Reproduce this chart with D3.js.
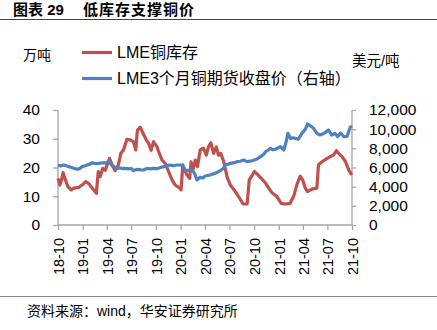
<!DOCTYPE html>
<html><head><meta charset="utf-8">
<script src="https://cdn.jsdelivr.net/npm/d3@7"></script>
<style>
body{margin:0;background:#fff;}
svg{display:block;}
text{font-family:"Liberation Sans","Noto Sans CJK SC",sans-serif;fill:#000;}
</style></head>
<body>
<script>
// ---- Data ----
const inventoryDates = ["2018-10-01","2018-10-08","2018-10-14","2018-10-20","2018-10-29","2018-11-07","2018-11-19","2018-11-29","2018-12-17","2018-12-30",
"2019-01-12","2019-01-24","2019-02-06","2019-02-21","2019-02-28","2019-03-07","2019-03-17","2019-03-26","2019-04-04","2019-04-11","2019-04-20",
"2019-05-02","2019-05-14","2019-05-23","2019-06-02","2019-06-15","2019-06-27","2019-07-09","2019-07-18","2019-07-24","2019-08-04","2019-08-14",
"2019-08-26","2019-09-04","2019-09-13","2019-09-22","2019-10-05","2019-10-11","2019-10-24","2019-11-05","2019-11-17","2019-11-30","2019-12-12",
"2019-12-25","2020-01-03","2020-01-09","2020-01-16","2020-01-25","2020-02-04","2020-02-09","2020-02-16","2020-02-25","2020-03-04","2020-03-14",
"2020-03-26","2020-04-06","2020-04-14","2020-04-23","2020-05-03","2020-05-13","2020-05-21","2020-05-30","2020-06-10","2020-06-22","2020-07-04",
"2020-07-19","2020-08-04","2020-08-21","2020-09-05","2020-09-13","2020-09-21","2020-10-02","2020-10-15","2020-10-25","2020-11-13","2020-11-25",
"2020-12-07","2020-12-26","2021-01-10","2021-01-27","2021-02-12","2021-02-27","2021-03-09","2021-03-22","2021-03-31","2021-04-10","2021-04-18",
"2021-05-04","2021-05-23","2021-05-29","2021-06-11","2021-06-30","2021-07-12","2021-07-24","2021-08-04","2021-08-12","2021-08-25","2021-09-07",
"2021-09-19","2021-09-30"];
const inventoryValues = [16.2,13.9,15.6,18.2,15.6,13.3,12.2,12.8,13.1,13.9,
15.1,14.4,12.8,11.0,18.6,16.8,19.7,19.0,21.4,23.2,20.9,
18.9,20.9,24.9,26.1,29.8,29.6,29.0,26.1,33.0,34.0,31.9,
29.6,28.4,26.0,29.0,27.2,25.5,22.6,21.4,18.6,15.7,13.9,
13.1,12.2,20.9,19.1,17.4,16.2,22.0,19.1,22.6,20.3,26.1,
26.7,24.3,27.2,28.6,24.9,27.2,24.3,24.9,22.0,16.8,13.9,
12.2,9.9,7.3,7.3,15.7,16.8,18.6,17.5,16.5,14.5,12.8,
11.2,9.8,7.5,7.3,7.5,10.4,13.9,17.0,15.7,12.8,11.6,
12.5,12.8,20.9,22.0,23.2,23.8,24.3,25.9,24.9,23.8,22.0,
19.1,17.4];

const priceDates = ["2018-10-01","2018-10-10","2018-10-22","2018-11-01","2018-11-10","2018-11-20","2018-11-29","2018-12-11","2018-12-20","2018-12-30",
"2019-01-10","2019-01-18","2019-01-28","2019-02-06","2019-02-15","2019-02-24","2019-03-08","2019-03-19","2019-03-28","2019-04-07","2019-04-20",
"2019-05-02","2019-05-12","2019-05-20","2019-06-01","2019-06-08","2019-06-21","2019-07-01","2019-07-09","2019-07-18","2019-07-28","2019-08-08",
"2019-08-16","2019-08-29","2019-09-10","2019-09-22","2019-10-05","2019-10-16","2019-10-30","2019-11-12","2019-11-24","2019-12-05","2019-12-19",
"2020-01-01","2020-01-07","2020-01-19","2020-01-31","2020-02-13","2020-02-22","2020-03-02","2020-03-14","2020-03-24","2020-04-02","2020-04-20",
"2020-05-09","2020-05-28","2020-06-08","2020-06-16","2020-07-04","2020-07-16","2020-07-29","2020-08-10","2020-08-23","2020-09-05","2020-09-24",
"2020-10-12","2020-10-25","2020-11-05","2020-11-13","2020-11-22","2020-12-01","2020-12-10","2020-12-19","2021-01-07","2021-01-20","2021-01-30",
"2021-02-04","2021-02-14","2021-02-22","2021-03-03","2021-03-15","2021-03-28","2021-04-10","2021-04-18","2021-04-28","2021-05-10","2021-05-23",
"2021-06-04","2021-06-19","2021-07-05","2021-07-18","2021-07-30","2021-08-08","2021-08-19","2021-09-01","2021-09-13","2021-09-23","2021-09-30"];
const priceValues = [6230,6150,6260,6180,6090,6000,5910,5810,5880,6090,
6180,6260,6350,6500,6420,6400,6450,6500,6470,6610,6260,
6000,5910,5950,5880,5910,5850,5900,5670,5780,5810,5740,
5740,5910,5850,5910,5880,5980,6090,6200,6260,6180,6260,
6260,6200,5740,5700,5740,5390,4700,4970,4900,5110,5220,
5390,5670,5900,6260,6430,6480,6610,6650,6780,6610,6700,
6890,7130,7350,7650,7800,8000,7850,7910,8170,7830,8870,
9560,9040,9100,9040,8950,9560,9980,10540,10360,10120,9560,
9390,9560,9910,9390,9560,9220,9600,9220,9250,10120,10360];

const xTickLabels = ["18-10","19-01","19-04","19-07","19-10","20-01","20-04","20-07","20-10","21-01","21-04","21-07","21-10"];
const leftTicks = [0,10,20,30,40];
const rightTicks = [0,2000,4000,6000,8000,10000,12000];
const seriesNames = ["LME铜库存","LME3个月铜期货收盘价（右轴）"];

// ---- Layout ----
const W = 437, H = 330;
const M = {left:58, right:352, top:110, bottom:225};
const parse = d3.timeParse("%Y-%m-%d");
const tickParse = d3.timeParse("%y-%m");

const svg = d3.select("body").append("svg").attr("width",W).attr("height",H);

const x = d3.scaleTime().domain([parse("2018-10-01"), parse("2021-10-01")]).range([M.left, M.right]);
const yL = d3.scaleLinear().domain([0,40]).range([M.bottom, M.top]);
const yR = d3.scaleLinear().domain([0,12000]).range([M.bottom, M.top]);

const red = "#C0504D", blue = "#4F81BD", axisColor = "#A6A6A6";

// Title
svg.append("text").attr("x",13).attr("y",14.5).attr("font-size",15).attr("font-weight","bold")
  .attr("font-family","'Noto Sans CJK SC',sans-serif").attr("fill","#222").text("图表 29");
svg.append("text").attr("x",83).attr("y",14.5).attr("font-size",15).attr("font-weight","bold")
  .attr("letter-spacing",1).attr("font-family","'Noto Sans CJK SC',sans-serif").attr("fill","#222").text("低库存支撑铜价");
svg.append("line").attr("x1",0).attr("x2",W).attr("y1",19.5).attr("y2",19.5).attr("stroke","#444").attr("stroke-width",1.2);

// Units
svg.append("text").attr("x",23).attr("y",60).attr("font-size",14).text("万吨");
svg.append("text").attr("x",352).attr("y",66).attr("font-size",14.5).text("美元/吨");

// Legend
const legendColors = [red, blue];
const legendY = [52.5, 78.5];
seriesNames.forEach((n,i)=>{
  svg.append("line").attr("x1",82).attr("x2",112).attr("y1",legendY[i]).attr("y2",legendY[i])
    .attr("stroke",legendColors[i]).attr("stroke-width",3.2);
  svg.append("text").attr("x",117).attr("y",legendY[i]+5.5).attr("font-size",16).text(n);
});

// Axes
const fmt = d3.format(",");
const gL = svg.append("g").attr("transform",`translate(${M.left},0)`)
  .call(d3.axisLeft(yL).tickValues(leftTicks).tickSize(5).tickPadding(13).tickFormat(d3.format("d")));
const gR = svg.append("g").attr("transform",`translate(${M.right},0)`)
  .call(d3.axisRight(yR).tickValues(rightTicks).tickSize(4).tickPadding(13).tickFormat(fmt));
const xTickDates = xTickLabels.map(s=>tickParse(s));
const gX = svg.append("g").attr("transform",`translate(0,${M.bottom})`)
  .call(d3.axisBottom(x).tickValues(xTickDates).tickSize(5).tickFormat(d3.timeFormat("%y-%m")));

[gL,gR,gX].forEach(g=>{
  g.select(".domain").attr("stroke",axisColor).attr("stroke-width",1.3);
  g.selectAll(".tick line").attr("stroke",axisColor).attr("stroke-width",1.3);
  g.selectAll("text").attr("font-size",15.5).attr("font-family","'Liberation Sans',sans-serif").attr("fill","#000");
});
gX.select(".domain").attr("d",`M${M.left},0H${M.right}`);
gL.select(".domain").attr("d",`M0,${M.bottom}V${M.top}`);
gR.select(".domain").attr("d",`M0,${M.bottom}V${M.top}`);
gX.selectAll(".tick text")
  .attr("transform","rotate(-90)")
  .attr("text-anchor","end")
  .attr("x",-13).attr("y",0).attr("dy","0.36em").attr("font-size",14.5);

// Lines
const invData = inventoryDates.map((d,i)=>({date:parse(d), v:inventoryValues[i]}));
const priceData = priceDates.map((d,i)=>({date:parse(d), v:priceValues[i]}));
svg.append("path").datum(invData)
  .attr("d", d3.line().x(d=>x(d.date)).y(d=>yL(d.v)))
  .attr("fill","none").attr("stroke",red).attr("stroke-width",3.2).attr("stroke-linejoin","round");
svg.append("path").datum(priceData)
  .attr("d", d3.line().x(d=>x(d.date)).y(d=>yR(d.v)))
  .attr("fill","none").attr("stroke",blue).attr("stroke-width",3.2).attr("stroke-linejoin","round");

// Bottom source
svg.append("line").attr("x1",0).attr("x2",W).attr("y1",296.5).attr("y2",296.5).attr("stroke","#888").attr("stroke-width",1);
svg.append("text").attr("x",27).attr("y",315.5).attr("font-size",14).attr("fill","#222").text("资料来源：wind，华安证券研究所");
</script>
</body></html>
